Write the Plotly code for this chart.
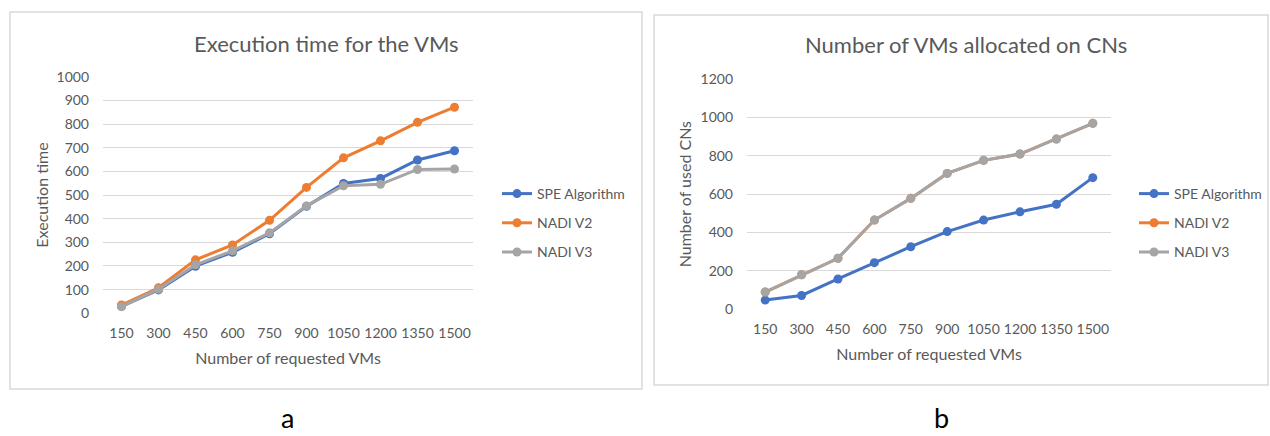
import plotly.graph_objects as go

# Requested VM counts (shared category axis)
vm_requests = ["150", "300", "450", "600", "750", "900", "1050", "1200", "1350", "1500"]

# Panel a: execution time
exec_spe = [29, 99, 199, 258, 336, 452, 549, 570, 648, 687]
exec_nadi_v2 = [35, 108, 226, 289, 393, 532, 657, 729, 807, 871]
exec_nadi_v3 = [28, 102, 205, 264, 340, 454, 539, 545, 608, 610]

# Panel b: number of used CNs
cn_spe = [48, 72, 158, 243, 326, 405, 465, 508, 547, 686]
cn_nadi_v2 = [90, 180, 266, 465, 578, 708, 776, 809, 887, 969]
cn_nadi_v3 = [90, 180, 266, 465, 578, 708, 776, 809, 887, 969]

y_ticks_a = [0, 100, 200, 300, 400, 500, 600, 700, 800, 900, 1000]
y_ticks_b = [0, 200, 400, 600, 800, 1000, 1200]

W, H = 1270, 436
BLUE, ORANGE, GRAY = "#4472C4", "#ED7D31", "#A5A5A5"
TEXT = "#595959"
GRID = "#D9D9D9"
FONT = "Lato"


def px(x):
    return x / W


def py(y):
    return 1 - y / H


fig = go.Figure()

series_a = [("SPE Algorithm", exec_spe, BLUE), ("NADI V2", exec_nadi_v2, ORANGE), ("NADI V3", exec_nadi_v3, GRAY)]
series_b = [("SPE Algorithm", cn_spe, BLUE), ("NADI V2", cn_nadi_v2, ORANGE), ("NADI V3", cn_nadi_v3, GRAY)]

for i, (name, vals, col) in enumerate(series_a):
    fig.add_trace(go.Scatter(
        x=vm_requests, y=vals, name=name, mode="lines+markers",
        line=dict(color=col, width=3), marker=dict(color=col, size=9),
        xaxis="x", yaxis="y", legend="legend", legendgroup=f"a{i}",
    ))

for i, (name, vals, col) in enumerate(series_b):
    fig.add_trace(go.Scatter(
        x=vm_requests, y=vals, name=name, mode="lines+markers",
        line=dict(color=col, width=3), marker=dict(color=col, size=9),
        xaxis="x2", yaxis="y2", legend="legend2", legendgroup=f"b{i}",
    ))

tick_font = dict(family=FONT, size=14, color=TEXT)
title_font = dict(family=FONT, size=16, color=TEXT)

axis_common = dict(showline=False, zeroline=False, ticks="", tickfont=tick_font, automargin=False)

legend_common = dict(
    font=dict(family=FONT, size=14, color=TEXT),
    bgcolor="rgba(0,0,0,0)", tracegroupgap=8,
    xanchor="left", yanchor="top", itemwidth=30,
)

fig.update_layout(
    width=W, height=H,
    margin=dict(l=0, r=0, t=0, b=0, autoexpand=False),
    paper_bgcolor="white", plot_bgcolor="white",
    font=dict(family=FONT, color=TEXT),
    xaxis=dict(
        domain=[px(103), px(473)], anchor="y", type="category",
        range=[-0.5, 9.5], showgrid=False, ticklabelstandoff=10,
        title=dict(text="Number of requested VMs", font=title_font, standoff=12),
        **axis_common,
    ),
    yaxis=dict(
        domain=[py(313.3), py(76.7)], anchor="x", range=[0, 1000],
        tickvals=y_ticks_a, showgrid=True, gridcolor=GRID, gridwidth=1.3,
        ticklabelstandoff=13,
        title=dict(text="Execution time", font=title_font, standoff=3),
        **axis_common,
    ),
    xaxis2=dict(
        domain=[px(747), px(1111)], anchor="y2", type="category",
        range=[-0.5, 9.5], showgrid=False, ticklabelstandoff=10,
        title=dict(text="Number of requested VMs", font=title_font, standoff=12),
        **axis_common,
    ),
    yaxis2=dict(
        domain=[py(309.3), py(79)], anchor="x2", range=[0, 1200],
        tickvals=y_ticks_b, showgrid=True, gridcolor=GRID, gridwidth=1.3,
        ticklabelstandoff=13,
        title=dict(text="Number of used CNs", font=title_font, standoff=4),
        **axis_common,
    ),
    legend=dict(x=px(497), y=py(178), **legend_common),
    legend2=dict(x=px(1134), y=py(178), **legend_common),
    showlegend=True,
)

# Chart frames
fig.add_shape(type="rect", xref="paper", yref="paper",
              x0=px(10), x1=px(642), y0=py(389), y1=py(12),
              line=dict(color=GRID, width=1.5), fillcolor="rgba(0,0,0,0)")
fig.add_shape(type="rect", xref="paper", yref="paper",
              x0=px(654), x1=px(1268), y0=py(385), y1=py(15),
              line=dict(color=GRID, width=1.5), fillcolor="rgba(0,0,0,0)")

# Chart titles and panel letters
ann = dict(xref="paper", yref="paper", showarrow=False, xanchor="center")
fig.add_annotation(text="Execution time for the VMs", x=px(326), y=py(43), yanchor="middle",
                   font=dict(family=FONT, size=22, color=TEXT), **ann)
fig.add_annotation(text="Number of VMs allocated on CNs", x=px(966), y=py(44), yanchor="middle",
                   font=dict(family=FONT, size=22, color=TEXT), **ann)
fig.add_annotation(text="a", x=px(287), y=py(436), yanchor="bottom",
                   font=dict(family=FONT, size=27, color="#000000"), **ann)
fig.add_annotation(text="b", x=px(942), y=py(436), yanchor="bottom",
                   font=dict(family=FONT, size=27, color="#000000"), **ann)

fig.write_html("out.html")
